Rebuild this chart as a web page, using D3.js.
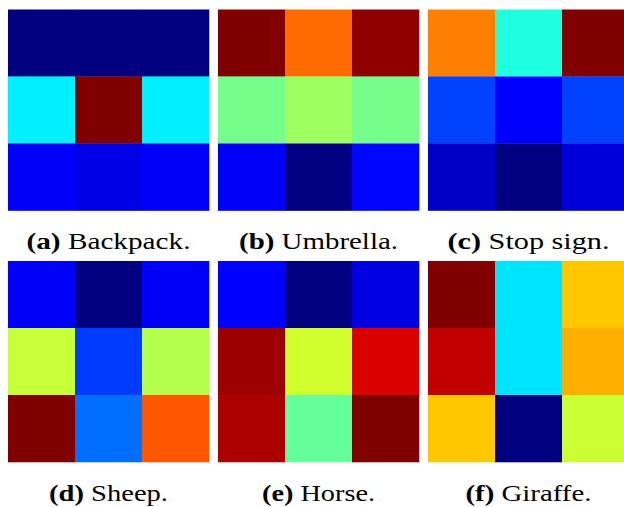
<!DOCTYPE html>
<html>
<head>
<meta charset="utf-8">
<script src="https://cdn.jsdelivr.net/npm/d3@7"></script>
<style>
  html, body { margin: 0; padding: 0; background: #fff; }
  svg { display: block; }
</style>
</head>
<body>
<svg id="chart" width="624" height="507"></svg>
<script>
// ---- data ----
const panelLetters = ["a", "b", "c", "d", "e", "f"];
const panelNames = ["Backpack.", "Umbrella.", "Stop sign.", "Sheep.", "Horse.", "Giraffe."];
const gridRows = [0, 1, 2];
const gridCols = [0, 1, 2];
// 3x3 attention values (jet colormap, 0..1), row-major
const backpack  = [0.00, 0.00, 0.00,  0.36, 1.00, 0.36,  0.12, 0.10, 0.12];
const umbrella  = [1.00, 0.77, 0.985, 0.49, 0.53, 0.49,  0.12, 0.00, 0.13];
const stopSign  = [0.75, 0.405, 1.00, 0.19, 0.125, 0.19, 0.07, 0.00, 0.09];
const sheep     = [0.12, 0.00, 0.12,  0.57, 0.184, 0.55, 1.00, 0.233, 0.79];
const horse     = [0.125, 0.00, 0.095, 0.972, 0.58, 0.91, 0.957, 0.473, 1.00];
const giraffe   = [1.00, 0.35, 0.68,  0.934, 0.35, 0.703, 0.68, 0.00, 0.575];
const panelValues = [backpack, umbrella, stopSign, sheep, horse, giraffe];

// ---- layout ----
const svg = d3.select("#chart");
const panelSize = 201;
const panelX = d3.scaleLinear().domain([0, 1]).range([8, 218]);    // column of panels
const panelY = d3.scaleLinear().domain([0, 1]).range([9.5, 261]);  // row of panels
const captionWidth = [164, 159, 162, 119, 113, 126];

const jet = d3.scaleLinear()
  .domain([0, 0.125, 0.375, 0.625, 0.875, 1])
  .range(["#000080", "#0000ff", "#00ffff", "#ffff00", "#ff0000", "#800000"])
  .interpolate(d3.interpolateRgb)
  .clamp(true);

const cx = d3.scaleBand().domain(gridCols).range([0, panelSize]);
const cy = d3.scaleBand().domain(gridRows).range([0, panelSize]);

panelValues.forEach((vals, i) => {
  const col = i % 3, row = Math.floor(i / 3);
  const g = svg.append("g")
    .attr("transform", `translate(${panelX(col)},${panelY(row)})`);
  const cells = vals.map((v, k) => ({ r: Math.floor(k / 3), c: k % 3, v }));
  g.selectAll("rect").data(cells).join("rect")
    .attr("x", d => cx(d.c))
    .attr("y", d => cy(d.r))
    .attr("width", cx.bandwidth() + 0.3)
    .attr("height", cy.bandwidth() + 0.3)
    .attr("fill", d => jet(d.v));

  const t = g.append("text")
    .attr("x", panelSize / 2)
    .attr("y", panelSize + 38.5)
    .attr("text-anchor", "middle")
    .attr("font-family", "'Liberation Serif', 'Times New Roman', serif")
    .attr("font-size", 23.5)
    .attr("fill", "#000")
    .attr("textLength", captionWidth[i])
    .attr("lengthAdjust", "spacingAndGlyphs");
  t.append("tspan").attr("font-weight", "bold").text(`(${panelLetters[i]})`);
  t.append("tspan").text(" " + panelNames[i]);
});
</script>
</body>
</html>
